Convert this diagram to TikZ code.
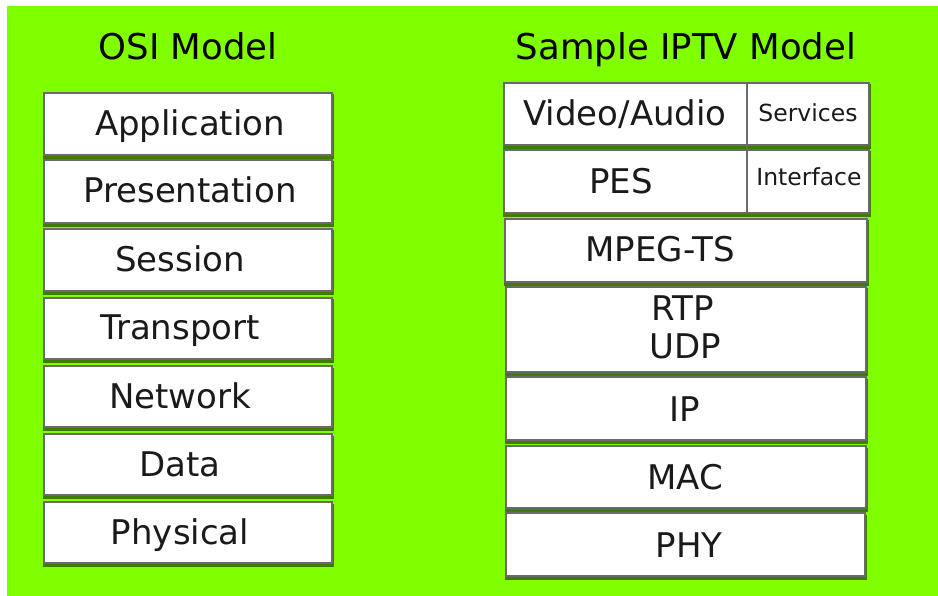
\documentclass[tikz,border=0pt]{standalone}
\usepackage{fontspec}
\setmainfont{DejaVu Sans}
\definecolor{bggreen}{HTML}{80FF00}
\definecolor{shadowgreen}{HTML}{3E7D00}
\definecolor{boxgray}{HTML}{6A6A6A}
\definecolor{txt}{HTML}{1A1A1A}
\tikzset{
  layerbox/.style={draw=boxgray, line width=1.3pt, fill=white, inner sep=0pt, outer sep=0pt},
  bigtxt/.style={anchor=base, inner sep=0pt, text=txt, font=\fontsize{34}{40}\selectfont},
  titletxt/.style={anchor=base, inner sep=0pt, text=black, font=\fontsize{35.5}{42}\selectfont},
  smalltxt/.style={anchor=base, inner sep=0pt, text=txt, font=\fontsize{23.5}{28}\selectfont},
}
\newcommand\lbox[5]{%
  \fill[shadowgreen] ({#2-1},{#3+1.5}) rectangle ({#4+2},{#5+4});
  \node[layerbox, minimum width={(#4-#2)*1pt}, minimum height={(#5-#3)*1pt}] (#1) at ({(#2+#4)/2},{(#3+#5)/2}) {};
}
\begin{document}
\begin{tikzpicture}[x=1pt,y=-1pt]
\useasboundingbox (0,0) rectangle (938,596);
\fill[white] (-2,-2) rectangle (940,598);
\fill[bggreen] (7,6) rectangle (942,600);

% titles
\node[titletxt] (osititle) at (188,60) {OSI Model};
\node[titletxt] (iptvtitle) at (686,60) {Sample IPTV Model};

% OSI column
\lbox{app}{44}{93}{332}{155}
\lbox{pres}{44}{160}{332}{223}
\lbox{sess}{44}{229}{332}{291}
\lbox{trans}{44}{298}{332}{359}
\lbox{net}{44}{366}{332}{427}
\lbox{data}{44}{434}{332}{495}
\lbox{phys}{44}{502}{332}{563}

\node[bigtxt] (appt) at (190,136) {Application};
\node[bigtxt] (prest) at (190,203) {Presentation};
\node[bigtxt] (sesst) at (180,272) {Session};
\node[bigtxt] (transt) at (180,340) {Transport};
\node[bigtxt] (nett) at (180,408) {Network};
\node[bigtxt] (datat) at (180,476) {Data};
\node[bigtxt] (physt) at (180,544) {Physical};

% IPTV column
\lbox{va}{504}{83}{869}{145}
\lbox{pes}{504}{150}{869}{213}
\draw[boxgray, line width=1.3pt] (747,83) -- (747,213);
\lbox{mpeg}{505}{219}{867}{282}
\lbox{rtp}{506}{287}{866}{372}
\lbox{ip}{506}{377}{866}{440}
\lbox{mac}{506}{446}{866}{508}
\lbox{phy}{506}{513}{865}{576}

\node[bigtxt] (vat) at (625,126) {Video/Audio};
\node[smalltxt] (servt) at (808,122) {Services};
\node[bigtxt] (pest) at (621,194) {PES};
\node[smalltxt] (intt) at (809,186) {Interface};
\node[bigtxt] (mpegt) at (660,262) {MPEG-TS};
\node[bigtxt] (rtpt) at (683,320) {RTP};
\node[bigtxt] (udpt) at (685,359) {UDP};
\node[bigtxt] (ipt) at (685,421) {IP};
\node[bigtxt] (mact) at (685,489) {MAC};
\node[bigtxt] (phyt) at (689,557) {PHY};
\end{tikzpicture}
\end{document}
